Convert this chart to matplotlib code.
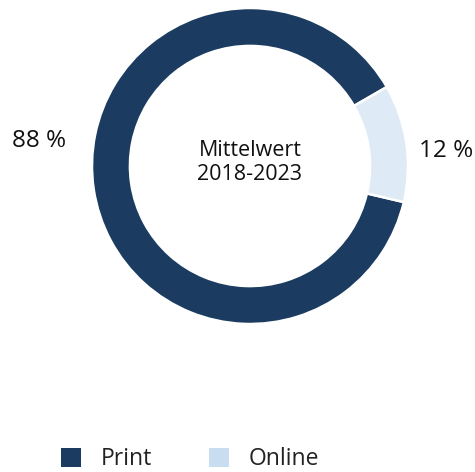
import matplotlib
matplotlib.use("Agg")
import matplotlib.pyplot as plt
from matplotlib.patches import Patch

plt.rcParams['font.family'] = ['Open Sans', 'DejaVu Sans']

# Daten
categories = ['Print', 'Online']
shares = [88, 12]
share_labels = ['88 %', '12 %']
center_text = 'Mittelwert\n2018-2023'

ring_colors = ['#1b3c60', '#deeaf6']
legend_colors = ['#1b3c60', '#c9ddf0']

W, H = 475, 472
fig = plt.figure(figsize=(W / 100, H / 100), dpi=100)

# Ring: Mitte (250, 166), Radius 158 px
cx, cy, r = 250, 166, 158
ax = fig.add_axes([(cx - r) / W, (H - cy - r) / H, 2 * r / W, 2 * r / H])

wedges, _ = ax.pie(shares, colors=ring_colors, startangle=30, counterclock=True,
                   radius=1, wedgeprops=dict(width=0.24, edgecolor='white', linewidth=1.8))
ax.set_xlim(-1, 1)
ax.set_ylim(-1, 1)
ax.set_aspect('equal')
ax.axis('off')

ax.text(0, 0.02, center_text, ha='center', va='center', fontsize=15.5, linespacing=1.2,
        color='#111111')

# Prozentwerte außen
ax.text((39 - cx) / r, (cy - 141) / r, share_labels[0], ha='center', va='center',
        fontsize=17.5, clip_on=False, color='#111111')
ax.text((446 - cx) / r, (cy - 151) / r, share_labels[1], ha='center', va='center',
        fontsize=17.5, clip_on=False, color='#111111')

handles = [Patch(facecolor=c, edgecolor='none') for c in legend_colors]
fig.legend(handles, categories, loc='lower left', bbox_to_anchor=(0.086, -0.042),
           ncol=2, frameon=False, fontsize=16.5, handlelength=0.87, handleheight=0.87,
           handletextpad=0.85, columnspacing=2.5, labelcolor='#222222')

fig.savefig('out.png', dpi=100)
